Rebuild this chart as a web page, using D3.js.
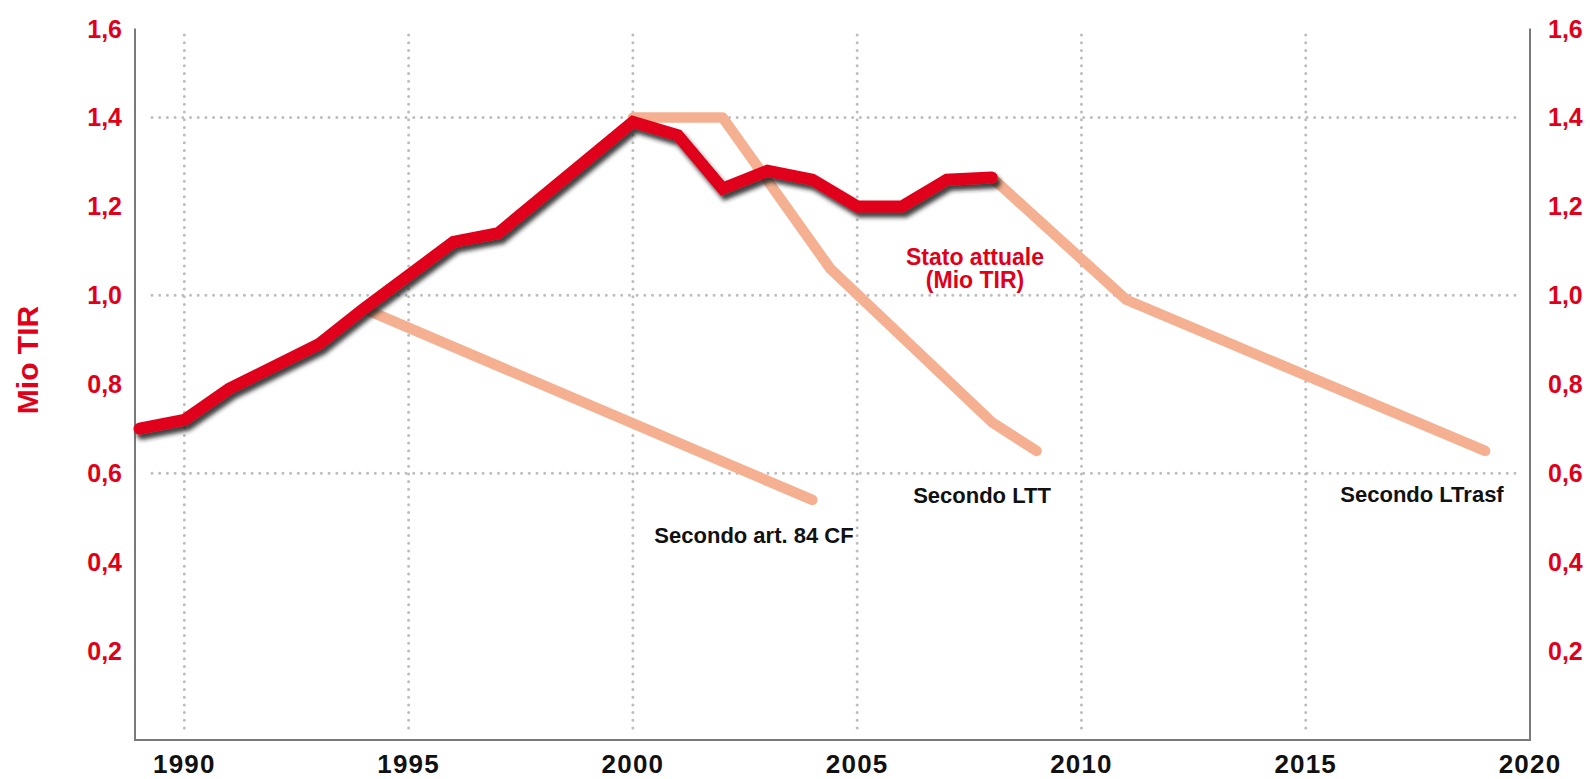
<!DOCTYPE html>
<html>
  <head>
    <meta charset="utf-8">
    <title>Mio TIR</title>
    <style type="text/css">
body { margin: 0; background: #fff; }
text { font-family: "Liberation Sans", Arial, sans-serif; font-weight: bold; }
    </style>
  </head>
  <body>
    <div id="chart"></div>
    <script src="https://d3js.org/d3.v7.min.js"></script>
    <script>

    // tick labels
    var ticksX = [1990, 1995, 2000, 2005, 2010, 2015, 2020];
    var ticksY = [0.2, 0.4, 0.6, 0.8, 1.0, 1.2, 1.4, 1.6];
    var gridY = [0.6, 1.0, 1.4];

    // Stato attuale (Mio TIR)
    var statoYears  = [1989, 1990, 1991, 1993, 1994, 1996, 1997, 2000, 2001, 2002, 2003, 2004, 2005, 2006, 2007, 2008];
    var statoValues = [0.70, 0.72, 0.79, 0.89, 0.97, 1.12, 1.14, 1.39, 1.36, 1.24, 1.28, 1.26, 1.20, 1.20, 1.26, 1.265];

    // Secondo art. 84 CF
    var cf84Years  = [1994, 2004];
    var cf84Values = [0.97, 0.54];

    // Secondo LTT
    var lttYears  = [2000, 2002, 2004.4, 2008, 2009];
    var lttValues = [1.40, 1.40, 1.06, 0.715, 0.65];

    // Secondo LTrasf
    var ltrasfYears  = [2008, 2011, 2019];
    var ltrasfValues = [1.265, 0.99, 0.65];

    var width = 1590,
        height = 779;

    var plotLeft = 135, plotRight = 1530, plotTop = 28.5, plotBottom = 740;

    var red = "#e1001a",
        orange = "#f5b091",
        grey = "#7a7a7a";

    var x = d3.scaleLinear().domain([1988.9, 2020]).range([plotLeft, plotRight]);
    var y = d3.scaleLinear().domain([0, 1.6]).range([plotBottom, plotTop]);

    function pairs(xs, ys) {
      return xs.map(function(d, i) { return [d, ys[i]]; });
    }

    var line = d3.line()
      .x(function(d) { return x(d[0]); })
      .y(function(d) { return y(d[1]); });

    var fmt = function(d) { return d3.format(".1f")(d).replace(".", ","); };

    var svg = d3.select("#chart")
      .append("svg")
      .attr("width", width)
      .attr("height", height);

    var defs = svg.append("defs");
    defs.append("filter")
      .attr("id", "shadow")
      .attr("x", "-5%").attr("y", "-20%")
      .attr("width", "110%").attr("height", "140%")
      .append("feDropShadow")
      .attr("dx", 3).attr("dy", 5)
      .attr("stdDeviation", 2.2)
      .attr("flood-color", "#222")
      .attr("flood-opacity", 0.85);

    // dotted grid
    svg.append("g").selectAll("line")
      .data(ticksX.filter(function(d) { return d < 2020; }))
      .enter().append("line")
      .attr("x1", function(d) { return x(d); })
      .attr("x2", function(d) { return x(d); })
      .attr("y1", 35)
      .attr("y2", 733)
      .attr("stroke", "#bdbdbd")
      .attr("stroke-width", 3)
      .attr("stroke-linecap", "round")
      .attr("stroke-dasharray", "0 7.7");

    svg.append("g").selectAll("line")
      .data(gridY)
      .enter().append("line")
      .attr("x1", 152)
      .attr("x2", 1518)
      .attr("y1", function(d) { return y(d); })
      .attr("y2", function(d) { return y(d); })
      .attr("stroke", "#bdbdbd")
      .attr("stroke-width", 3)
      .attr("stroke-linecap", "round")
      .attr("stroke-dasharray", "0 7.7");

    // axes
    svg.append("path")
      .attr("d", "M" + plotLeft + "," + plotTop + "V" + plotBottom + "H" + plotRight + "V" + plotTop)
      .attr("stroke", grey)
      .attr("stroke-width", 2)
      .attr("fill", "none");

    // y tick labels, both sides
    svg.append("g").selectAll("text")
      .data(ticksY)
      .enter().append("text")
      .attr("x", 122)
      .attr("y", function(d) { return y(d); })
      .attr("dy", "0.36em")
      .attr("text-anchor", "end")
      .attr("font-size", 25)
      .attr("fill", red)
      .text(fmt);

    svg.append("g").selectAll("text")
      .data(ticksY)
      .enter().append("text")
      .attr("x", 1548)
      .attr("y", function(d) { return y(d); })
      .attr("dy", "0.36em")
      .attr("text-anchor", "start")
      .attr("font-size", 25)
      .attr("fill", red)
      .text(fmt);

    // x tick labels
    svg.append("g").selectAll("text")
      .data(ticksX)
      .enter().append("text")
      .attr("x", function(d) { return x(d); })
      .attr("y", 773)
      .attr("text-anchor", "middle")
      .attr("font-size", 26)
      .attr("letter-spacing", 1.2)
      .attr("fill", "#111")
      .text(function(d) { return d; });

    svg.append("text")
      .attr("transform", "translate(38,360) rotate(-90)")
      .attr("text-anchor", "middle")
      .attr("font-size", 30)
      .attr("fill", red)
      .text("Mio TIR");

    // scenario lines
    [pairs(cf84Years, cf84Values), pairs(lttYears, lttValues), pairs(ltrasfYears, ltrasfValues)]
      .forEach(function(d) {
        svg.append("path")
          .datum(d)
          .attr("d", line)
          .attr("fill", "none")
          .attr("stroke", orange)
          .attr("stroke-width", 10.5)
          .attr("stroke-linecap", "round")
          .attr("stroke-linejoin", "round");
      });

    svg.append("path")
      .datum(pairs(statoYears, statoValues))
      .attr("d", line)
      .attr("fill", "none")
      .attr("stroke", red)
      .attr("stroke-width", 12)
      .attr("stroke-linecap", "round")
      .attr("stroke-linejoin", "miter")
      .attr("filter", "url(#shadow)");

    // annotations
    var stato = svg.append("text")
      .attr("text-anchor", "middle")
      .attr("font-size", 23)
      .attr("fill", red);
    stato.append("tspan").attr("x", 975).attr("y", 265).text("Stato attuale");
    stato.append("tspan").attr("x", 975).attr("y", 288).text("(Mio TIR)");

    var notes = [
      {text: "Secondo art. 84 CF", x: 754, y: 543},
      {text: "Secondo LTT", x: 982, y: 503},
      {text: "Secondo LTrasf", x: 1422, y: 502}
    ];

    svg.append("g").selectAll("text")
      .data(notes)
      .enter().append("text")
      .attr("x", function(d) { return d.x; })
      .attr("y", function(d) { return d.y; })
      .attr("text-anchor", "middle")
      .attr("font-size", 22)
      .attr("fill", "#111")
      .text(function(d) { return d.text; });

    </script>
  </body>
</html>
